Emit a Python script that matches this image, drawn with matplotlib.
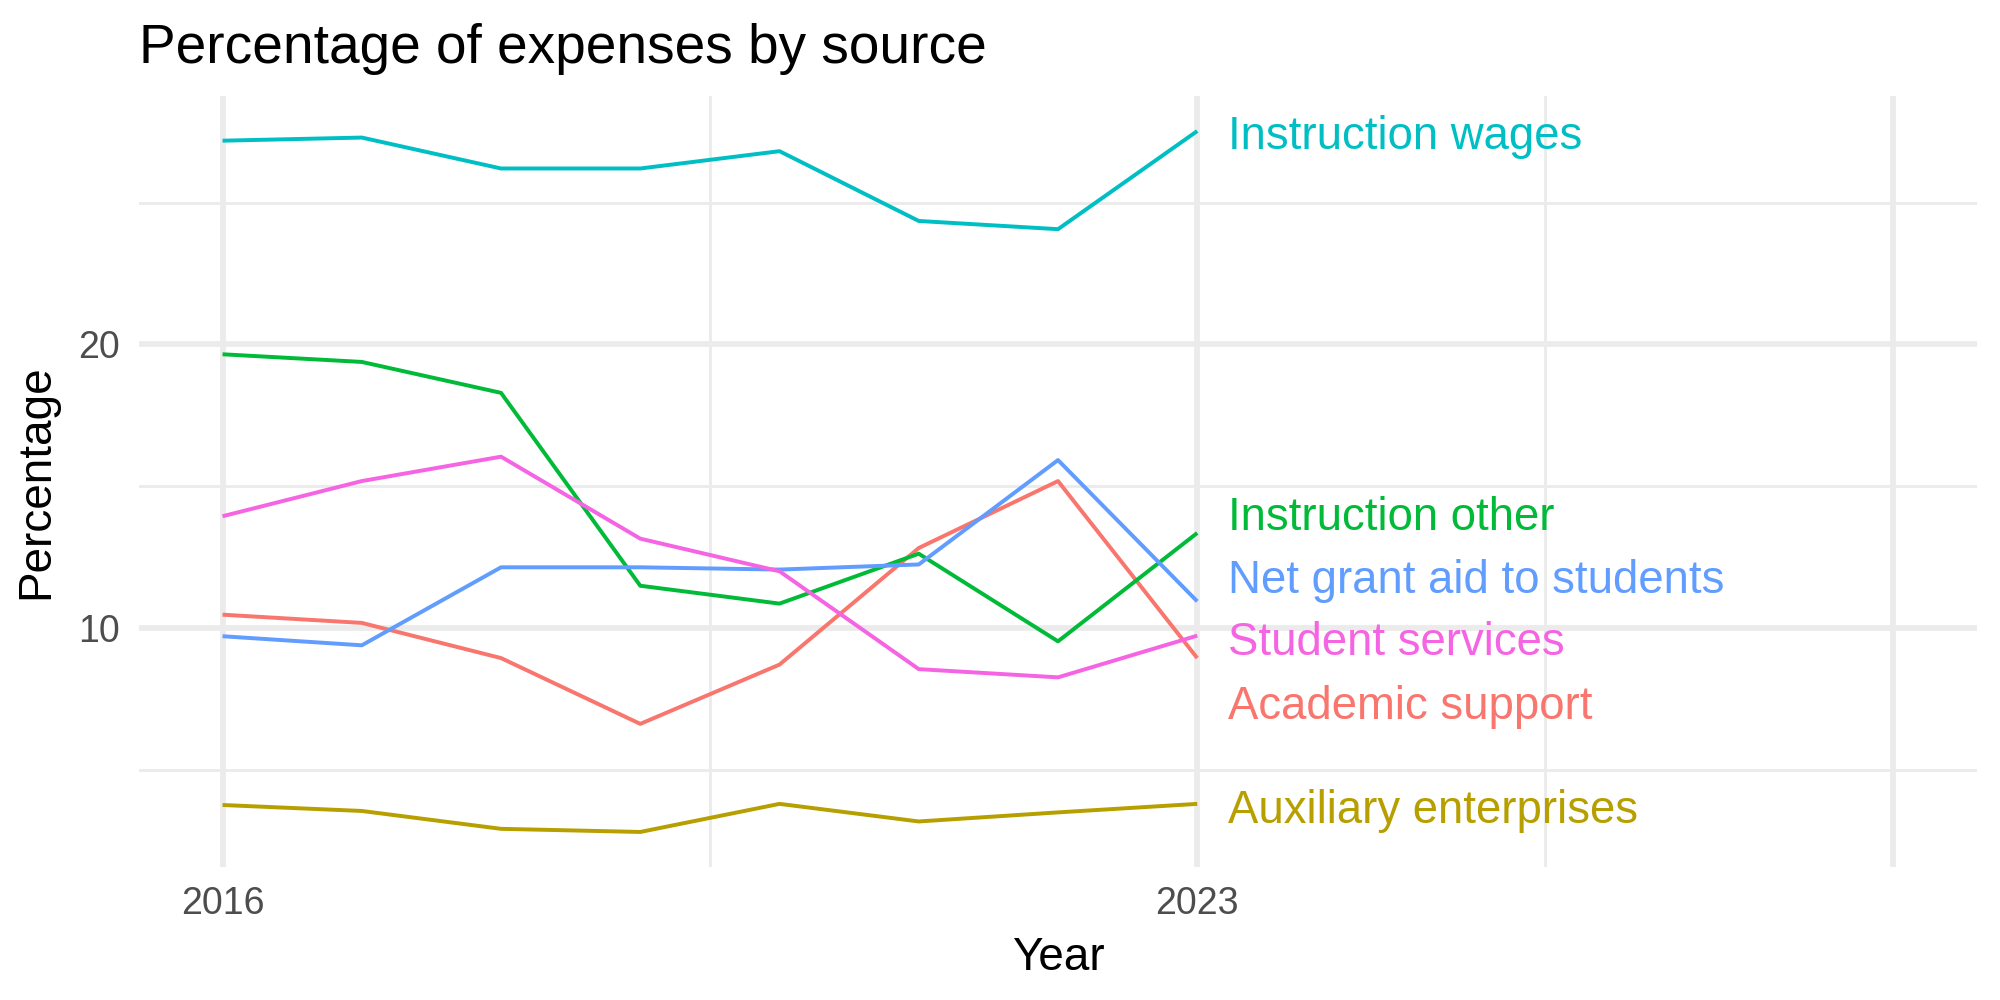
import matplotlib
matplotlib.use("Agg")
import matplotlib.pyplot as plt
from matplotlib.ticker import FixedLocator

plt.rcParams['font.family'] = ['Liberation Sans', 'DejaVu Sans']

years = [2016, 2017, 2018, 2019, 2020, 2021, 2022, 2023]

academic_support = [10.47, 10.18, 8.94, 6.62, 8.71, 12.82, 15.18, 8.94]
auxiliary_enterprises = [3.76, 3.55, 2.92, 2.81, 3.80, 3.18, 3.50, 3.80]
instruction_other = [19.65, 19.38, 18.29, 11.49, 10.86, 12.62, 9.53, 13.35]
instruction_wages = [27.18, 27.29, 26.20, 26.20, 26.81, 24.35, 24.06, 27.52]
net_grant_aid = [9.71, 9.39, 12.14, 12.14, 12.06, 12.24, 15.92, 10.94]
student_services = [13.94, 15.18, 16.04, 13.15, 12.00, 8.55, 8.26, 9.73]

series = {
    "Academic support": academic_support,
    "Auxiliary enterprises": auxiliary_enterprises,
    "Instruction other": instruction_other,
    "Instruction wages": instruction_wages,
    "Net grant aid to students": net_grant_aid,
    "Student services": student_services,
}
colors = {
    "Academic support": "#F8766D",
    "Auxiliary enterprises": "#B79F00",
    "Instruction other": "#00BA38",
    "Instruction wages": "#00BFC4",
    "Net grant aid to students": "#619CFF",
    "Student services": "#F564E3",
}
# label heights after repelling
label_y = {
    "Instruction wages": 27.48,
    "Instruction other": 14.05,
    "Net grant aid to students": 11.85,
    "Student services": 9.64,
    "Academic support": 7.39,
    "Auxiliary enterprises": 3.74,
}

fig = plt.figure(figsize=(10, 5), dpi=200)
ax = fig.add_axes([0.0695, 0.133, 0.919, 0.771])

for name, vals in series.items():
    ax.plot(years, vals, color=colors[name], lw=1.42, solid_capstyle='butt', zorder=3)
    ax.text(2023.22, label_y[name], name, color=colors[name], fontsize=16.4,
            ha='left', va='center_baseline', zorder=4)

# limits like ggplot expand 5%
ax.set_xlim(2016 - 0.6, 2028 + 0.6)
ymin, ymax = 2.81, 27.52
pad = (ymax - ymin) * 0.05
ax.set_ylim(ymin - pad, ymax + pad)

ax.set_xticks([2016, 2023, 2028])
ax.set_xticklabels(['2016', '2023', ''])
ax.xaxis.set_minor_locator(FixedLocator([2019.5, 2025.5]))
ax.set_yticks([10, 20])
ax.yaxis.set_minor_locator(FixedLocator([5, 15, 25]))

ax.grid(which='major', color='#EBEBEB', lw=2.07)
ax.grid(which='minor', color='#EBEBEB', lw=1.03)
ax.set_axisbelow(True)
for s in ax.spines.values():
    s.set_visible(False)
ax.tick_params(which='both', length=0)
ax.tick_params(axis='both', labelsize=13.5, labelcolor='#4D4D4D', pad=7)

ax.set_xlabel("Year", fontsize=16.5, labelpad=5)
ax.set_ylabel("Percentage", fontsize=16.5, labelpad=7)

fig.text(0.0695, 0.937, "Percentage of expenses by source", fontsize=19.8,
         ha='left', va='baseline')

fig.savefig("out.png", dpi=200, facecolor='white')
